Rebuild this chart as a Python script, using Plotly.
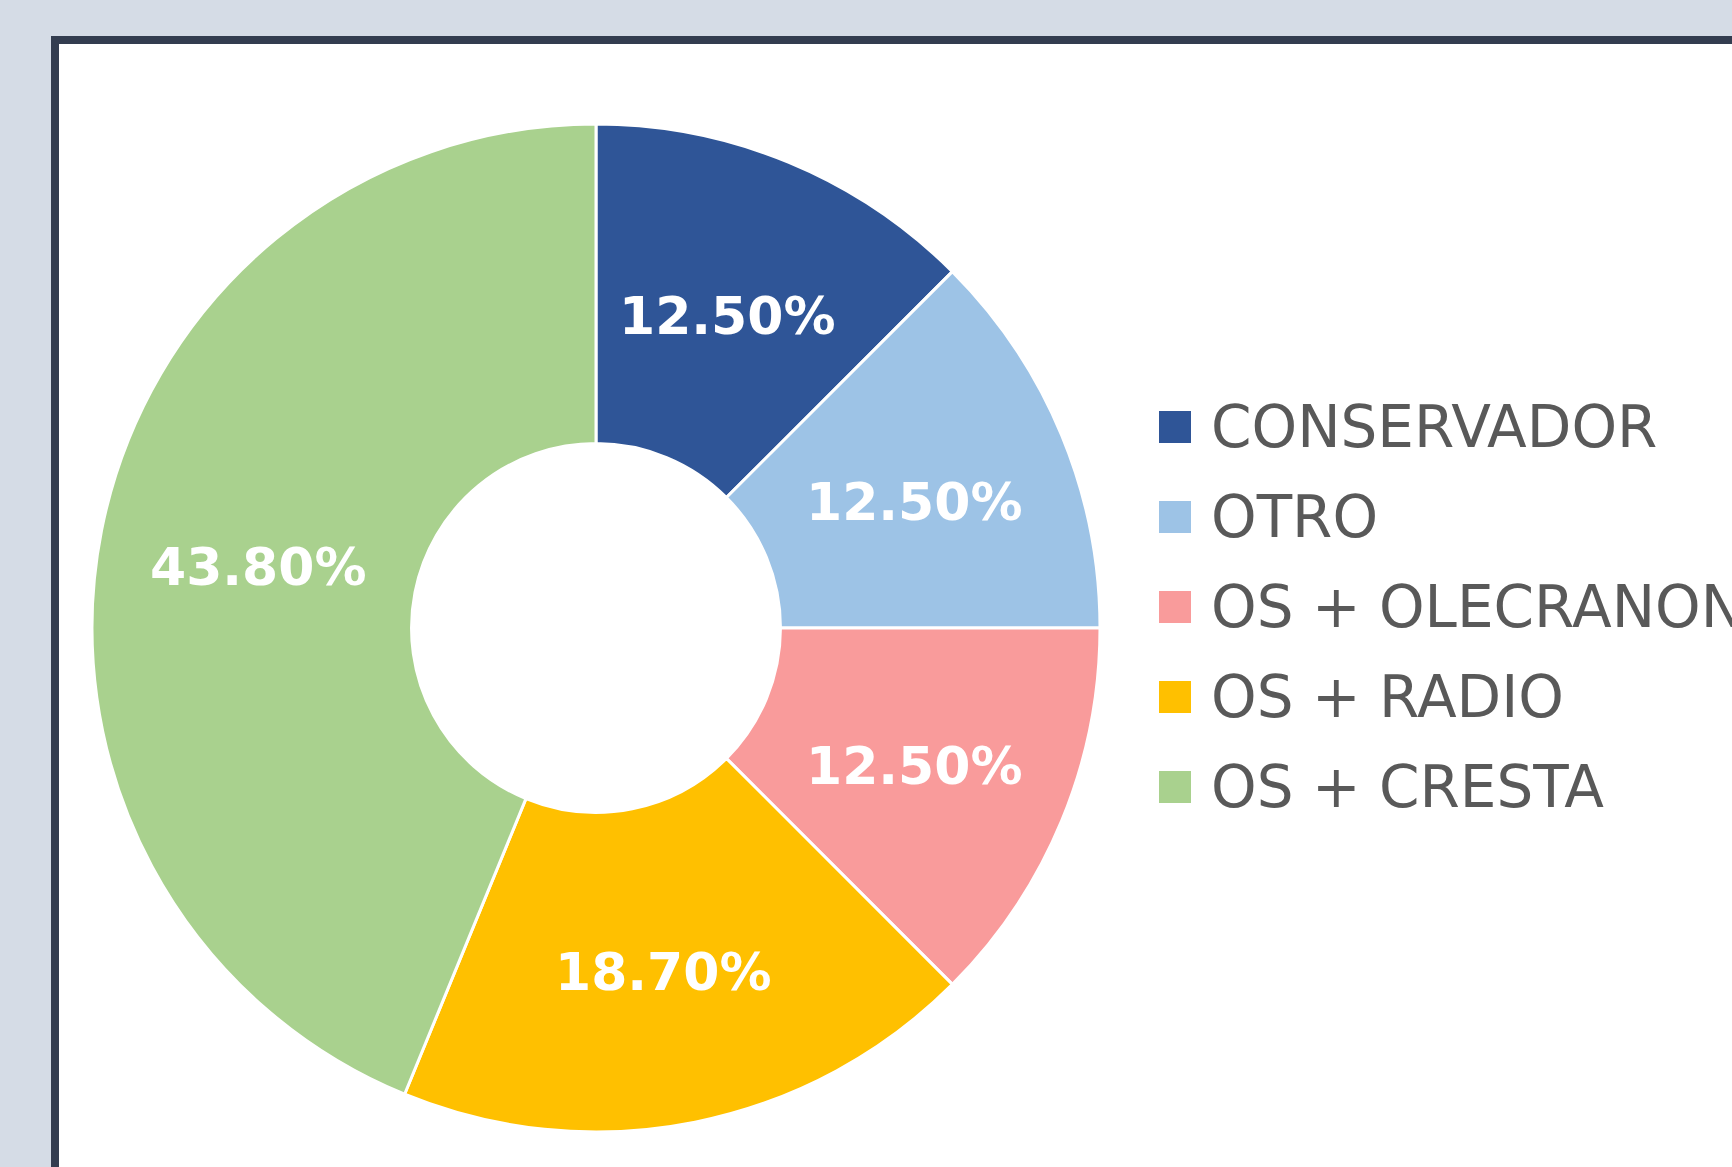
import math
import plotly.graph_objects as go

categories = ["CONSERVADOR", "OTRO", "OS + OLECRANON", "OS + RADIO", "OS + CRESTA"]
values = [12.5, 12.5, 12.5, 18.7, 43.8]
colors = ["#2F5597", "#9DC3E6", "#F99B9B", "#FFC000", "#A9D18E"]

W, H = 1732, 1167
cx, cy, R = 596, 628, 504
HOLE = 0.366

fig = go.Figure()
fig.add_trace(go.Pie(
    labels=categories,
    values=values,
    sort=False,
    direction="clockwise",
    rotation=0,
    hole=HOLE,
    marker=dict(colors=colors, line=dict(color="white", width=3)),
    textinfo="none",
    domain=dict(x=[(cx - R) / W, (cx + R) / W], y=[(H - cy - R) / H, (H - cy + R) / H]),
    showlegend=False,
    hoverinfo="label+percent",
))

# data labels at the mid-radius of each slice's bisector (Excel style)
annotations = []
total = sum(values)
cum = 0.0
rmid = R * (1 + HOLE) / 2
for v in values:
    ang = 2 * math.pi * (cum + v / 2) / total
    cum += v
    px = cx + rmid * math.sin(ang)
    py = cy - rmid * math.cos(ang)
    annotations.append(dict(xref="paper", yref="paper", x=px / W, y=(H - py) / H,
                            xanchor="center", yanchor="middle", yshift=-6,
                            text=f"{v:.2f}%", showarrow=False,
                            font=dict(family="DejaVu Sans", size=52, color="white", weight="bold")))

shapes = [dict(type="rect", xref="paper", yref="paper",
               x0=55 / W, x1=1.05, y0=-0.05, y1=1 - 40 / H,
               line=dict(color="#333D50", width=8), fillcolor="white", layer="below")]
row_y = [427, 517, 607, 697, 787]
for name, col, y in zip(categories, colors, row_y):
    shapes.append(dict(type="rect", xref="paper", yref="paper",
                       x0=1159 / W, x1=1191 / W, y0=(H - y - 16) / H, y1=(H - y + 16) / H,
                       line=dict(width=0), fillcolor=col))
    annotations.append(dict(xref="paper", yref="paper", x=1209 / W, y=(H - y) / H,
                            xanchor="left", yanchor="middle", text=name, showarrow=False,
                            font=dict(family="DejaVu Sans", size=58, color="#595959")))

fig.update_layout(
    width=W, height=H,
    margin=dict(l=0, r=0, t=0, b=0),
    paper_bgcolor="#D5DCE6",
    plot_bgcolor="#D5DCE6",
    shapes=shapes,
    annotations=annotations,
)
fig.write_html("out.html", config={"displayModeBar": False},
               post_script="document.body.style.margin='0';document.body.style.overflow='hidden';")
